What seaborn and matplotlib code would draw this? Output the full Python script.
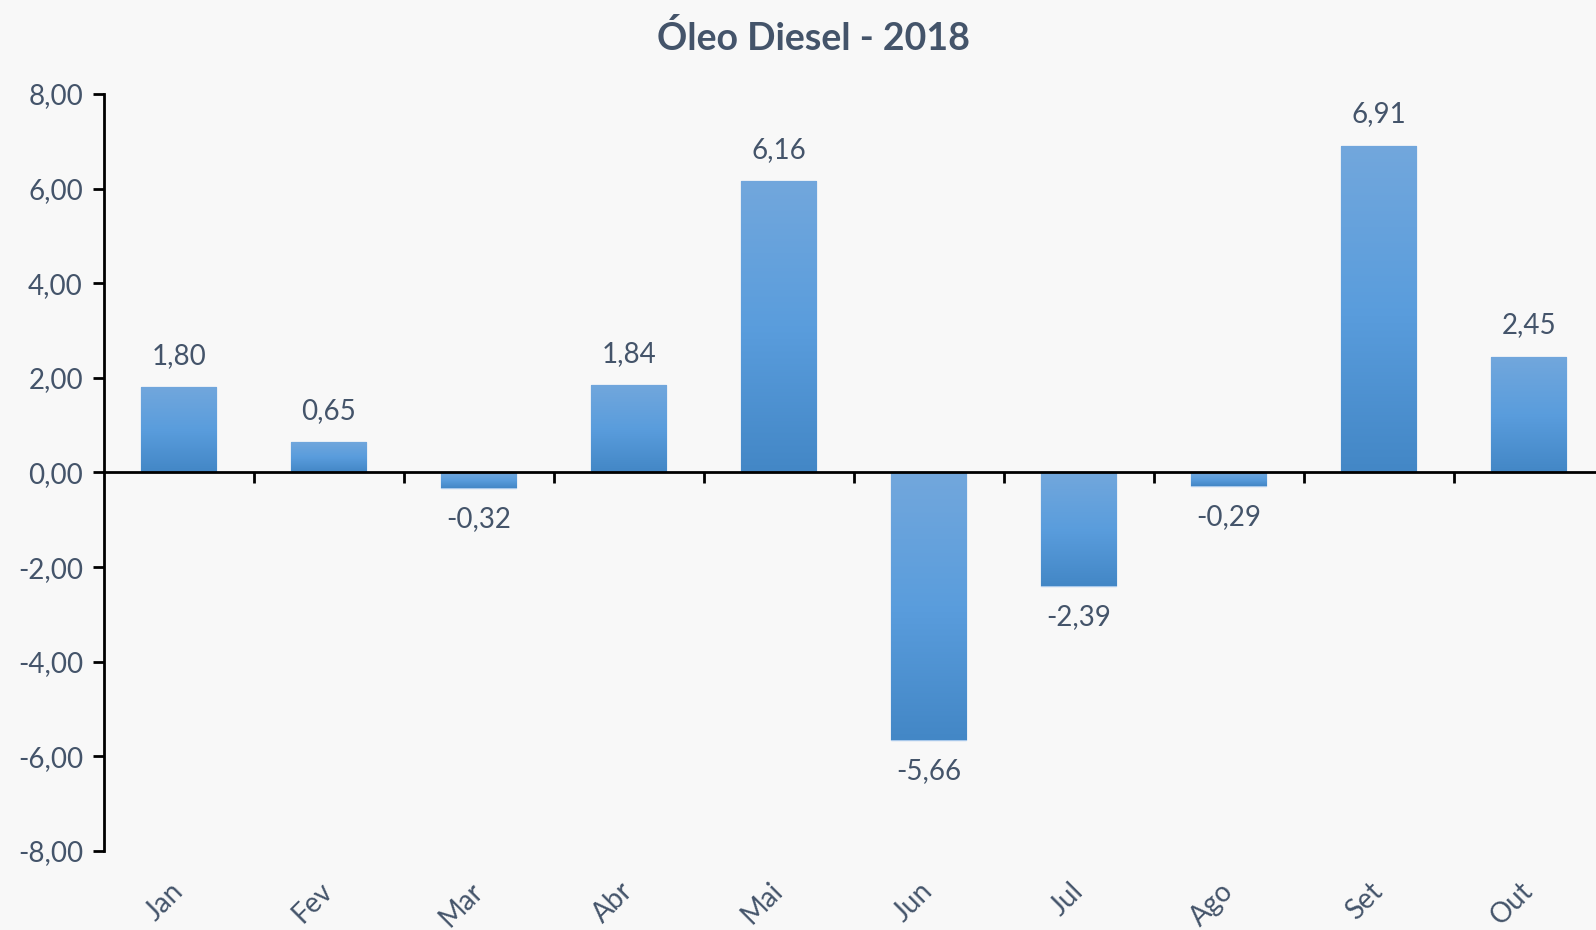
# Óleo Diesel - 2018: variação mensal
import seaborn as sns
import matplotlib.pyplot as plt
import numpy as np
from matplotlib.colors import LinearSegmentedColormap

meses = ["Jan", "Fev", "Mar", "Abr", "Mai", "Jun", "Jul", "Ago", "Set", "Out"]
valores = [1.80, 0.65, -0.32, 1.84, 6.16, -5.66, -2.39, -0.29, 6.91, 2.45]
yticks = [-8, -6, -4, -2, 0, 2, 4, 6, 8]

txt = "#44546A"
fundo = "#F8F8F8"

sns.set_theme(style="white")
plt.rcParams["font.family"] = ["Lato", "DejaVu Sans"]

fig = plt.figure(figsize=(15.96, 9.30), dpi=100, facecolor=fundo)
ax = fig.add_axes([0.065, 0.085, 0.94, 0.814])
ax.set_facecolor(fundo)

sns.barplot(x=meses, y=valores, color="#5A9DDD", width=0.5, ax=ax,
            edgecolor="#A8C8EA", linewidth=1, zorder=2)

# gradiente vertical em cada barra (claro em cima, escuro embaixo)
cmap = LinearSegmentedColormap.from_list("azul", ["#72A7DC", "#5A9DDD", "#4387C6"])
grad = np.linspace(0, 1, 256).reshape(-1, 1)
for p in ax.patches:
    x0, y0 = p.get_x(), p.get_y()
    w, h = p.get_width(), p.get_height()
    lo, hi = min(y0, y0 + h), max(y0, y0 + h)
    im = ax.imshow(grad, cmap=cmap, extent=[x0, x0 + w, lo, hi],
                   aspect="auto", origin="upper", zorder=2.5)
    im.set_clip_path(p)

ax.set_xlim(-0.5, len(meses) - 0.5)
ax.set_ylim(-8, 8)

# rótulos de dados
rotulos = [f"{v:.2f}".replace(".", ",") for v in valores]
ax.bar_label(ax.containers[0], labels=rotulos, padding=13, fontsize=20, color=txt)

# eixo y
ax.set_yticks(yticks)
ax.set_yticklabels([f"{v:.2f}".replace(".", ",") for v in yticks])
ax.tick_params(axis="y", direction="out", length=8, width=2, color="black",
               labelsize=20, labelcolor=txt, pad=7, left=True)

# eixo x na linha do zero, ticks entre categorias
for s in ["top", "right"]:
    ax.spines[s].set_visible(False)
for s in ["left", "bottom"]:
    ax.spines[s].set_color("black")
    ax.spines[s].set_linewidth(2)
ax.spines["bottom"].set_position(("data", 0))
ax.set_xticks(np.arange(0.5, len(meses) - 1, 1))
ax.set_xticklabels([])
ax.tick_params(axis="x", direction="out", length=8, width=2, color="black", bottom=True)

sec = ax.secondary_xaxis("bottom")
sec.set_xticks(range(len(meses)))
sec.set_xticklabels(meses)
sec.spines["bottom"].set_visible(False)
sec.tick_params(length=0, pad=26, labelsize=20, labelcolor=txt)
plt.setp(sec.get_xticklabels(), rotation=45, ha="right", va="center",
         rotation_mode="anchor")

ax.set_xlabel("")
fig.suptitle("Óleo Diesel - 2018", fontsize=27, fontweight="bold", color=txt,
             x=0.51, y=0.978)

fig.savefig("out.png", dpi=100, facecolor=fundo)
